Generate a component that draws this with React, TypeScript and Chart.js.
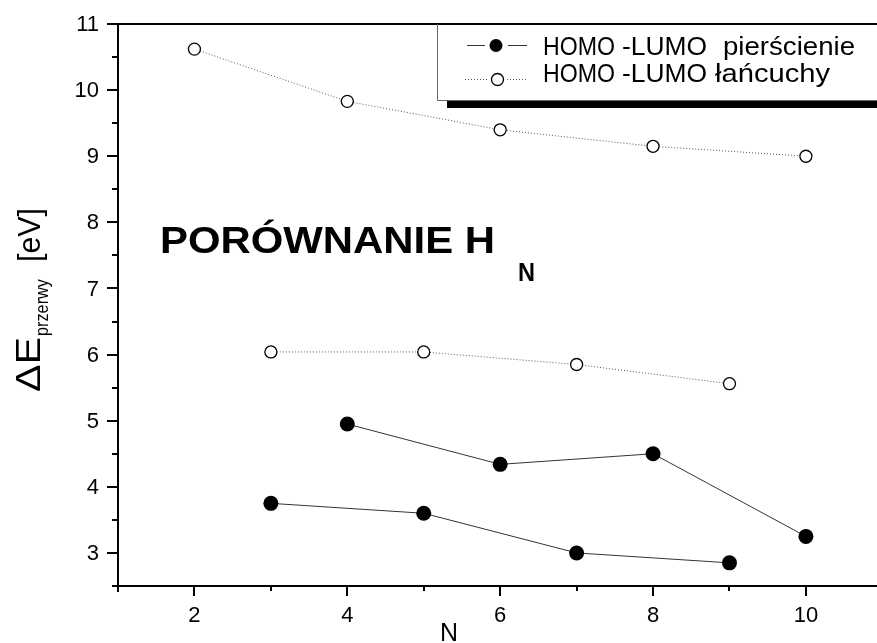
import React, { useEffect, useRef } from "react";
import { Chart, registerables } from "chart.js";

Chart.register(...registerables);

// ---- data ----
const nChainUpper = [2, 4, 6, 8, 10];
const eChainUpper = [10.62, 9.83, 9.4, 9.15, 9.0];
const nChainLower = [3, 5, 7, 9];
const eChainLower = [6.04, 6.04, 5.85, 5.56];
const nRingUpper = [4, 6, 8, 10];
const eRingUpper = [4.95, 4.34, 4.5, 3.25];
const nRingLower = [3, 5, 7, 9];
const eRingLower = [3.75, 3.6, 3.0, 2.85];

const xMajorTicks = [2, 4, 6, 8, 10];
const xMinorTicks = [1, 3, 5, 7, 9, 11];
const yMajorTicks = [3, 4, 5, 6, 7, 8, 9, 10, 11];
const yMinorTicks = [2.5, 3.5, 4.5, 5.5, 6.5, 7.5, 8.5, 9.5, 10.5];

const legendRing = "pierścienie";
const legendChain = "łańcuchy";
const titleMain = "PORÓWNANIE H";
const titleSub = "N";
const xTitle = "N";

const FONT = '"Liberation Sans", Arial, sans-serif';

const toPts = (xs: number[], ys: number[]) => xs.map((x, i) => ({ x, y: ys[i] }));

function fitText(
  ctx: CanvasRenderingContext2D,
  text: string,
  x: number,
  y: number,
  font: string,
  targetW: number
) {
  ctx.save();
  ctx.font = font;
  const w = ctx.measureText(text).width;
  const s = w > 0 ? targetW / w : 1;
  ctx.translate(x, y);
  ctx.scale(s, 1);
  ctx.fillText(text, 0, 0);
  ctx.restore();
}

const decorPlugin = {
  id: "decor",
  afterDraw(chart: any) {
    const ctx: CanvasRenderingContext2D = chart.ctx;
    const xs = chart.scales.x;
    const ys = chart.scales.y;
    const left = xs.left;
    const bottom = ys.bottom;
    const top = ys.getPixelForValue(11);
    ctx.save();
    ctx.strokeStyle = "#000";
    ctx.lineWidth = 2;
    ctx.lineCap = "butt";
    // axes + top frame line
    ctx.beginPath();
    ctx.moveTo(left, top);
    ctx.lineTo(left, bottom + 6);
    ctx.moveTo(xs.getPixelForValue(1) - 6, bottom);
    ctx.lineTo(chart.width, bottom);
    ctx.moveTo(left - 11, top);
    ctx.lineTo(chart.width, top);
    ctx.stroke();
    // ticks
    ctx.beginPath();
    yMajorTicks.forEach((v) => {
      const p = Math.round(ys.getPixelForValue(v));
      ctx.moveTo(left - 11, p);
      ctx.lineTo(left, p);
    });
    yMinorTicks.forEach((v) => {
      const p = Math.round(ys.getPixelForValue(v));
      ctx.moveTo(left - 6, p);
      ctx.lineTo(left, p);
    });
    xMajorTicks.forEach((v) => {
      const p = Math.round(xs.getPixelForValue(v));
      ctx.moveTo(p, bottom);
      ctx.lineTo(p, bottom + 10);
    });
    xMinorTicks.forEach((v) => {
      const p = Math.round(xs.getPixelForValue(v));
      if (p > chart.width) return;
      ctx.moveTo(p, bottom);
      ctx.lineTo(p, bottom + 5);
    });
    ctx.stroke();

    ctx.fillStyle = "#000";

    // tick labels
    ctx.font = `22px ${FONT}`;
    ctx.textAlign = "right";
    ctx.textBaseline = "middle";
    yMajorTicks.forEach((v) => {
      ctx.fillText(String(v), left - 19, ys.getPixelForValue(v) + 1);
    });
    ctx.textAlign = "center";
    xMajorTicks.forEach((v) => {
      ctx.fillText(String(v), xs.getPixelForValue(v), bottom + 30);
    });

    ctx.textBaseline = "alphabetic";
    ctx.textAlign = "left";

    // y title (rotated)
    ctx.save();
    ctx.translate(40, 392);
    ctx.rotate(-Math.PI / 2);
    fitText(ctx, "ΔE", 0, 0, `35px ${FONT}`, 55);
    fitText(ctx, "przerwy", 56, 8, `19px ${FONT}`, 57);
    fitText(ctx, "[eV]", 130, 0, `31px ${FONT}`, 54);
    ctx.restore();

    // x title
    fitText(ctx, xTitle, 440, 641, `26px ${FONT}`, 18);

    // inner title
    fitText(ctx, titleMain, 160, 253, `bold 36px ${FONT}`, 335);
    fitText(ctx, titleSub, 518, 281, `bold 25px ${FONT}`, 17);

    // legend
    ctx.fillStyle = "#000";
    ctx.fillRect(447, 100, 450, 8);
    ctx.fillStyle = "#fff";
    ctx.fillRect(438, top + 1, 450, 100 - top - 1);
    ctx.strokeStyle = "#666";
    ctx.lineWidth = 1;
    ctx.beginPath();
    ctx.moveTo(437.5, 100.5);
    ctx.lineTo(437.5, top);
    ctx.moveTo(437.5, 100.5);
    ctx.lineTo(900, 100.5);
    ctx.stroke();

    // legend symbols
    ctx.strokeStyle = "#333";
    ctx.lineWidth = 1;
    ctx.beginPath();
    ctx.moveTo(467, 45.5);
    ctx.lineTo(485, 45.5);
    ctx.moveTo(508, 45.5);
    ctx.lineTo(527, 45.5);
    ctx.stroke();
    ctx.fillStyle = "#000";
    ctx.beginPath();
    ctx.arc(496, 45.5, 6.5, 0, Math.PI * 2);
    ctx.fill();

    ctx.strokeStyle = "#555";
    ctx.setLineDash([1, 2]);
    ctx.beginPath();
    ctx.moveTo(465, 79.5);
    ctx.lineTo(489, 79.5);
    ctx.moveTo(507, 79.5);
    ctx.lineTo(527, 79.5);
    ctx.stroke();
    ctx.setLineDash([]);
    ctx.fillStyle = "#fff";
    ctx.strokeStyle = "#000";
    ctx.lineWidth = 1.3;
    ctx.beginPath();
    ctx.arc(497.5, 79.5, 6, 0, Math.PI * 2);
    ctx.fill();
    ctx.stroke();

    ctx.fillStyle = "#000";
    const lf = `25px ${FONT}`;
    fitText(ctx, "HOMO", 543, 55, lf, 72);
    fitText(ctx, "-LUMO", 622, 55, lf, 85);
    fitText(ctx, legendRing, 723, 55, lf, 132);
    fitText(ctx, "HOMO", 543, 82, lf, 72);
    fitText(ctx, "-LUMO", 622, 82, lf, 85);
    fitText(ctx, legendChain, 715, 82, lf, 115);

    ctx.restore();
  },
};

export default function App() {
  const ref = useRef<HTMLCanvasElement>(null);

  useEffect(() => {
    document.body.style.margin = "0";
    const canvas = ref.current!;
    const chainStyle = {
      showLine: true,
      borderColor: "#555",
      borderWidth: 1,
      borderDash: [1, 2],
      pointRadius: 6,
      pointBorderWidth: 1.3,
      pointBackgroundColor: "#fff",
      pointBorderColor: "#000",
    };
    const ringStyle = {
      showLine: true,
      borderColor: "#333",
      borderWidth: 1,
      pointRadius: 7.5,
      pointBorderWidth: 0,
      pointBackgroundColor: "#000",
      pointBorderColor: "#000",
    };
    const chart = new Chart(canvas, {
      type: "scatter",
      data: {
        datasets: [
          { label: "chain upper", data: toPts(nChainUpper, eChainUpper), ...chainStyle },
          { label: "chain lower", data: toPts(nChainLower, eChainLower), ...chainStyle },
          { label: "ring upper", data: toPts(nRingUpper, eRingUpper), ...ringStyle },
          { label: "ring lower", data: toPts(nRingLower, eRingLower), ...ringStyle },
        ],
      },
      options: {
        animation: false,
        responsive: false,
        devicePixelRatio: 1,
        layout: { autoPadding: false, padding: { top: 24, right: 0, left: 0, bottom: 0 } },
        plugins: {
          legend: { display: false },
          tooltip: { enabled: false },
          title: { display: false },
        },
        scales: {
          x: {
            type: "linear",
            min: 1,
            max: 10.93,
            grid: { display: false, drawTicks: false },
            border: { display: false },
            afterBuildTicks: (s: any) => {
              s.ticks = xMajorTicks.map((v) => ({ value: v }));
            },
            afterFit: (s: any) => {
              s.height = 57;
            },
            ticks: { display: false },
          },
          y: {
            type: "linear",
            min: 2.5,
            max: 11,
            grid: { display: false, drawTicks: false },
            border: { display: false },
            afterBuildTicks: (s: any) => {
              s.ticks = yMajorTicks.map((v) => ({ value: v }));
            },
            afterFit: (s: any) => {
              s.width = 118;
            },
            ticks: { display: false },
          },
        },
      },
      plugins: [decorPlugin],
    });
    return () => chart.destroy();
  }, []);

  return (
    <div style={{ width: 877, height: 643, background: "#fff" }}>
      <canvas ref={ref} width={877} height={643} style={{ display: "block" }} />
    </div>
  );
}
